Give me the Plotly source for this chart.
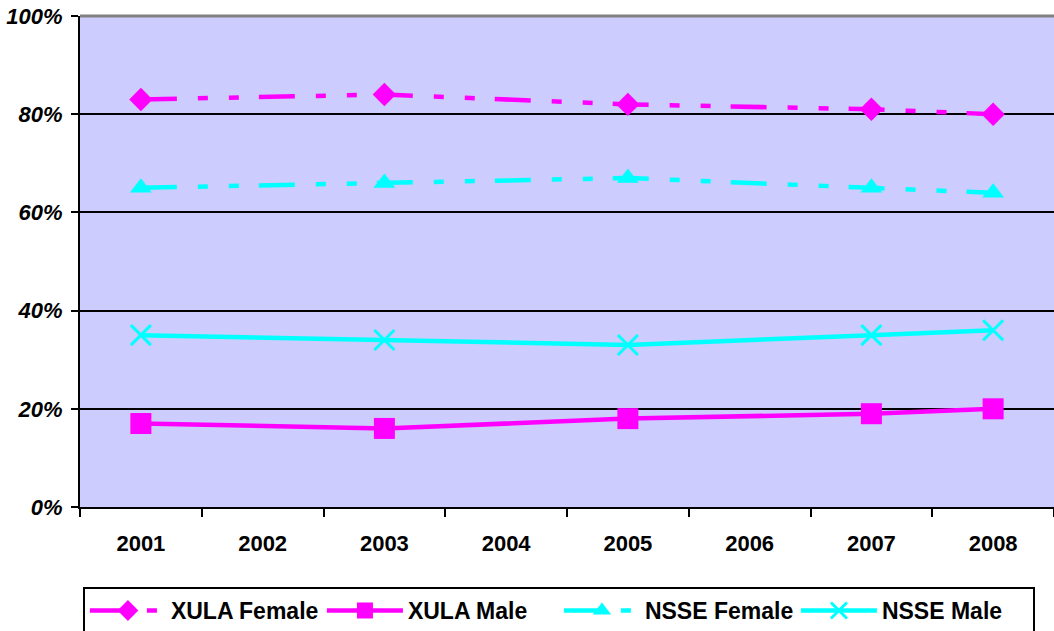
import plotly.graph_objects as go

categories = ["2001", "2002", "2003", "2004", "2005", "2006", "2007", "2008"]
years = ["2001", "2003", "2005", "2007", "2008"]
xula_female = [0.83, 0.84, 0.82, 0.81, 0.80]
xula_male = [0.17, 0.16, 0.18, 0.19, 0.20]
nsse_female = [0.65, 0.66, 0.67, 0.65, 0.64]
nsse_male = [0.35, 0.34, 0.33, 0.35, 0.36]

MAGENTA = "#FF00FF"
CYAN = "#00FFFF"
DASH = "36px,21px,10px,21px,10px,20px"
FONT = "Liberation Sans, Arial, sans-serif"

fig = go.Figure()
fig.add_trace(go.Scatter(x=years, y=xula_female, name="XULA Female", mode="lines+markers",
                         line=dict(color=MAGENTA, width=4.5, dash=DASH),
                         marker=dict(symbol="diamond", size=18, color=MAGENTA)))
fig.add_trace(go.Scatter(x=years, y=xula_male, name="XULA Male", mode="lines+markers",
                         line=dict(color=MAGENTA, width=4.5),
                         marker=dict(symbol="square", size=21, color=MAGENTA)))
fig.add_trace(go.Scatter(x=years, y=nsse_female, name="NSSE Female", mode="lines+markers",
                         line=dict(color=CYAN, width=4.5, dash=DASH),
                         marker=dict(symbol="triangle-up", size=19, color=CYAN)))
fig.add_trace(go.Scatter(x=years, y=nsse_male, name="NSSE Male", mode="lines+markers",
                         line=dict(color=CYAN, width=4.5),
                         marker=dict(symbol="x-thin", size=20, color=CYAN,
                                     line=dict(color=CYAN, width=3))))

fig.update_layout(
    width=1054, height=631,
    margin=dict(l=80, r=0, t=16, b=124, autoexpand=False),
    paper_bgcolor="white",
    plot_bgcolor="#CCCCFF",
    font=dict(family=FONT, color="black"),
    showlegend=True,
    legend=dict(orientation="h", x=0.003, xanchor="left", y=-0.163, yanchor="top",
                bgcolor="white", bordercolor="black", borderwidth=2,
                font=dict(size=23, family=FONT, weight="bold"),
                itemwidth=76, entrywidth=146, entrywidthmode="pixels",
                tracegroupgap=0),
)
fig.update_xaxes(type="category", categoryorder="array", categoryarray=categories,
                 range=[-0.5, 7.5], tickson="boundaries", ticks="outside", ticklen=8,
                 tickwidth=2, tickcolor="black", showline=True, linecolor="black",
                 linewidth=2, showgrid=False, ticklabelstandoff=16, automargin=False,
                 ticklabeloverflow="allow",
                 tickfont=dict(size=22, family=FONT, weight="bold"))
fig.update_yaxes(range=[0, 1], tickvals=[0, 0.2, 0.4, 0.6, 0.8, 1.0], tickformat=".0%",
                 ticks="outside", ticklen=7, tickwidth=2, tickcolor="black",
                 showline=True, linecolor="black", linewidth=2, showgrid=True,
                 gridcolor="black", gridwidth=2, zeroline=False, ticklabelstandoff=4,
                 automargin=False, ticklabeloverflow="allow",
                 tickfont=dict(size=22, family=FONT, weight="bold", style="italic"))
fig.add_shape(type="line", xref="paper", yref="paper", x0=0, x1=1, y0=1, y1=1,
              line=dict(color="#808080", width=3))

fig.write_html("out.html", config={"displayModeBar": False},
               post_script="document.body.style.margin='0';document.body.style.overflow='hidden';")
